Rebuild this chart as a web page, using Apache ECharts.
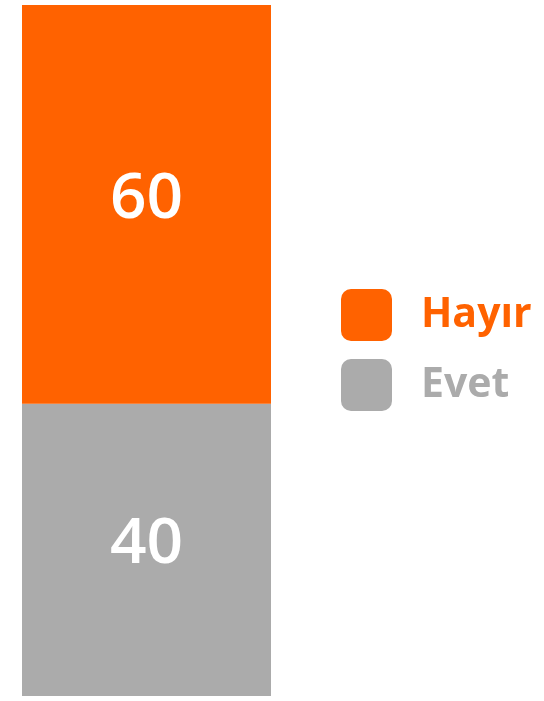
<!DOCTYPE html>
<html>
<head>
<meta charset="utf-8">
<script src="https://cdn.jsdelivr.net/npm/echarts@6/dist/echarts.min.js"></script>
<style>
  html, body { margin: 0; padding: 0; background: #fff; }
  #chart { width: 544px; height: 701px; }
</style>
</head>
<body>
<div id="chart"></div>
<script>
// single stacked column, bottom to top
const categories = ['']
const evetValues = [40]
const hayirValues = [60]
const seriesNames = ['Hayır', 'Evet']

const ORANGE = '#FF6200'
const GREY = '#ABABAB'
const FONT = '"Open Sans", "Noto Sans", sans-serif'

// rounded square for legend markers
const roundSquare = 'path://M10,0H41A10,10,0,0,1,51,10V42A10,10,0,0,1,41,52H10A10,10,0,0,1,0,42V10A10,10,0,0,1,10,0Z'

const labelStyle = {
  show: true,
  position: 'inside',
  offset: [0, -5],
  color: '#fff',
  fontFamily: FONT,
  fontWeight: 600,
  fontSize: 64
}

const option = {
  animation: false,
  grid: { left: 22, right: 273, top: 5, bottom: 5 },
  xAxis: {
    type: 'category',
    data: categories,
    show: false
  },
  yAxis: {
    type: 'value',
    min: 0,
    max: 94.6,
    show: false
  },
  legend: {
    orient: 'vertical',
    left: 336,
    top: 284,
    itemWidth: 51,
    itemHeight: 52,
    itemGap: 18,
    icon: roundSquare,
    textStyle: {
      fontFamily: FONT,
      fontWeight: 'bold',
      fontSize: 41,
      padding: [0, 0, 10, 24]
    },
    data: [
      { name: seriesNames[0], textStyle: { color: ORANGE } },
      { name: seriesNames[1], textStyle: { color: GREY } }
    ]
  },
  series: [
    {
      name: seriesNames[1],
      type: 'bar',
      stack: 'total',
      barWidth: '100%',
      itemStyle: { color: GREY },
      label: labelStyle,
      data: evetValues
    },
    {
      name: seriesNames[0],
      type: 'bar',
      stack: 'total',
      barWidth: '100%',
      itemStyle: { color: ORANGE },
      label: labelStyle,
      data: hayirValues
    }
  ]
}

const chart = echarts.init(document.getElementById('chart'))
chart.setOption(option)
</script>
</body>
</html>
